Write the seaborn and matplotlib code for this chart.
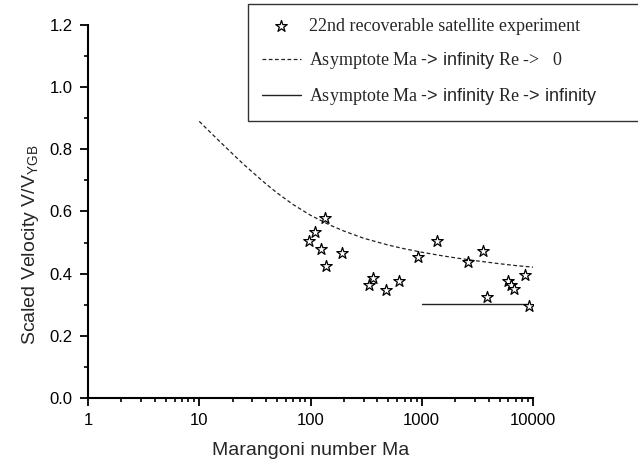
import numpy as np
import pandas as pd
import matplotlib
matplotlib.use("Agg")
import matplotlib.pyplot as plt
import matplotlib.ticker as mticker
import seaborn as sns

# experiment points
ma_stars = [97.5, 110, 125, 135, 137, 191, 339, 362, 474, 624,
            916, 1365, 2620, 3560, 3820, 5900, 6300, 6700, 8400, 9300]
v_stars = [0.506, 0.534, 0.479, 0.580, 0.425, 0.468, 0.363, 0.385, 0.347, 0.377,
           0.455, 0.506, 0.439, 0.472, 0.326, 0.375, 0.365, 0.352, 0.395, 0.295]

# asymptote Re -> 0 (dashed)
ma_re0 = [10, 12, 15, 20, 25, 30, 40, 50, 70, 100, 150, 200, 300, 500, 700,
          1000, 1500, 2000, 3000, 5000, 7000, 10000]
v_re0 = [0.89, 0.862, 0.828, 0.785, 0.752, 0.727, 0.688, 0.660, 0.622, 0.588, 0.556,
         0.537, 0.514, 0.492, 0.480, 0.469, 0.458, 0.451, 0.442, 0.432, 0.426, 0.421]

# asymptote Re -> infinity (solid)
ma_reinf = [1000, 9000]
v_reinf = [0.302, 0.302]

x_ticks = [1, 10, 100, 1000, 10000]
x_tick_labels = ["1", "10", "100", "1000", "10000"]
y_ticks = [0.0, 0.2, 0.4, 0.6, 0.8, 1.0, 1.2]

label_stars = "22nd recoverable satellite experiment"
label_re0 = r"Asymptote Ma $\text{-> infinity}$ Re ->   0"
label_reinf = r"Asymptote Ma $\text{-> infinity}$ Re $\text{-> infinity}$"

sns.set_style("ticks")
plt.rcParams["font.family"] = ["Liberation Sans", "DejaVu Sans"]
plt.rcParams["mathtext.fontset"] = "custom"
plt.rcParams["mathtext.rm"] = "Liberation Sans"
plt.rcParams["mathtext.it"] = "Liberation Sans:italic"

df_stars = pd.DataFrame({"Ma": ma_stars, "V": v_stars})
df_re0 = pd.DataFrame({"Ma": ma_re0, "V": v_re0})
df_reinf = pd.DataFrame({"Ma": ma_reinf, "V": v_reinf})

fig = plt.figure(figsize=(6.38, 4.74), dpi=100)
ax = fig.add_axes([88 / 638, 1 - 398 / 474, 445 / 638, 373 / 474])

sns.scatterplot(data=df_stars, x="Ma", y="V", marker="*", s=75,
                facecolor="white", edgecolor="black", linewidth=0.9,
                label=label_stars, ax=ax, zorder=3)
sns.lineplot(data=df_re0, x="Ma", y="V", color="#222222", linewidth=0.9,
             linestyle=(0, (3, 2)), label=label_re0, ax=ax, estimator=None)
sns.lineplot(data=df_reinf, x="Ma", y="V", color="#222222", linewidth=1.0,
             label=label_reinf, ax=ax, estimator=None)

ax.set_xscale("log")
ax.set_xlim(1, 10000)
ax.set_ylim(0, 1.2)
ax.set_xticks(x_ticks)
ax.set_xticklabels(x_tick_labels)
ax.xaxis.set_minor_locator(mticker.LogLocator(base=10, subs=np.arange(2, 10)))
ax.xaxis.set_minor_formatter(mticker.NullFormatter())
ax.set_yticks(y_ticks)
ax.yaxis.set_major_formatter(mticker.FormatStrFormatter("%.1f"))
ax.yaxis.set_minor_locator(mticker.MultipleLocator(0.1))

ax.tick_params(which="major", direction="out", length=6, width=1.3,
               labelsize=12, colors="black", pad=5)
ax.tick_params(which="minor", direction="out", length=3, width=1.2, colors="black")

sns.despine(ax=ax)
for side in ["left", "bottom"]:
    ax.spines[side].set_linewidth(1.5)
    ax.spines[side].set_color("black")

ax.set_xlabel("Marangoni number Ma", fontsize=14, labelpad=10)
ax.set_ylabel(r"Scaled Velocity V/V$_{\mathrm{YGB}}$", fontsize=14)
ax.yaxis.set_label_coords(-0.105, 0.41)

# legend box runs off the right edge of the figure, as in the original
leg = ax.legend(loc="upper left", bbox_to_anchor=(248 / 638, 1 - 4 / 474 - 0.05, 440 / 638, 0.05),
                bbox_transform=fig.transFigure, mode="expand", borderaxespad=0,
                frameon=True, fancybox=False, shadow=False, borderpad=0.75,
                labelspacing=0.85, handlelength=2.2, handletextpad=0.45,
                prop={"family": "Liberation Serif", "size": 13})
leg.get_frame().set_edgecolor("black")
leg.get_frame().set_linewidth(1.0)

fig.savefig("out.png", dpi=100)
